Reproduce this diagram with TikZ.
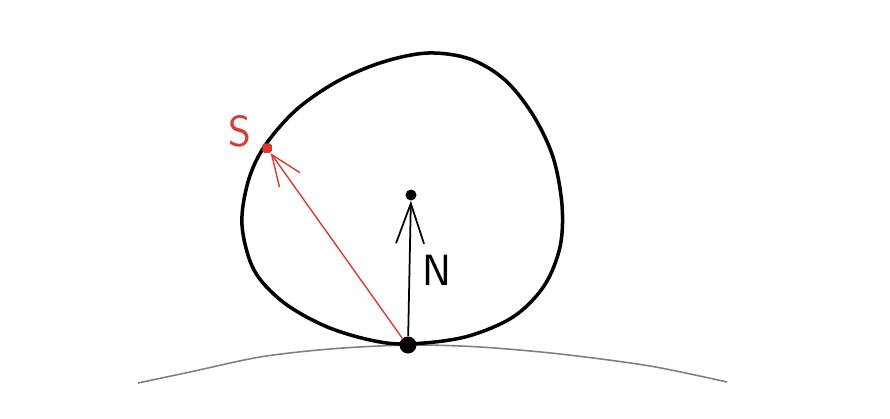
\documentclass[tikz,border=0pt]{standalone}
\usepackage{tikz}
\usetikzlibrary{arrows.meta}
\definecolor{pen red}{RGB}{215,60,50}

\begin{document}
\begin{tikzpicture}[x=0.02cm,y=-0.02cm]
\useasboundingbox (0,0) rectangle (890,419);

% ground
\draw [gray, line width=0.9pt] plot [smooth] coordinates
  {(138,383) (190,372) (260,357) (330,349) (408,345) (480,347) (560,354) (650,366) (727,382)};

% the body
\draw [line width=2pt] plot [smooth cycle, tension=0.55] coordinates
  {(408,344) (370,340) (325,326) (283,302) (254,270) (242,225) (248,182) (264,147)
   (296,110) (338,81) (383,62) (428,53) (470,59) (505,80) (533,115) (553,157) (562,205)
   (560,247) (544,286) (513,317) (465,337)};

\node [circle, fill, inner sep=0pt, minimum size=0.34cm] (contact) at (408,345) {};
\node [circle, fill, inner sep=0pt, minimum size=0.22cm] (centre) at (411,195) {};
\node [fill=pen red, rounded corners=1pt, inner sep=0pt, minimum size=0.19cm] (spot) at (267,148) {};

\draw [line width=1pt, -{Straight Barb[length=0.8cm, width=0.56cm, line width=1pt]}] (contact) -- (centre);
\draw [pen red, line width=0.8pt, -{Straight Barb[length=0.62cm, width=0.5cm, line width=0.8pt]}] (contact.130) -- (spot);

\node [pen red, font=\sffamily\Huge] (slabel) at (240,131) {S};
\node [font=\sffamily\Huge] (nlabel) at (437,270) {N};
\end{tikzpicture}
\end{document}
